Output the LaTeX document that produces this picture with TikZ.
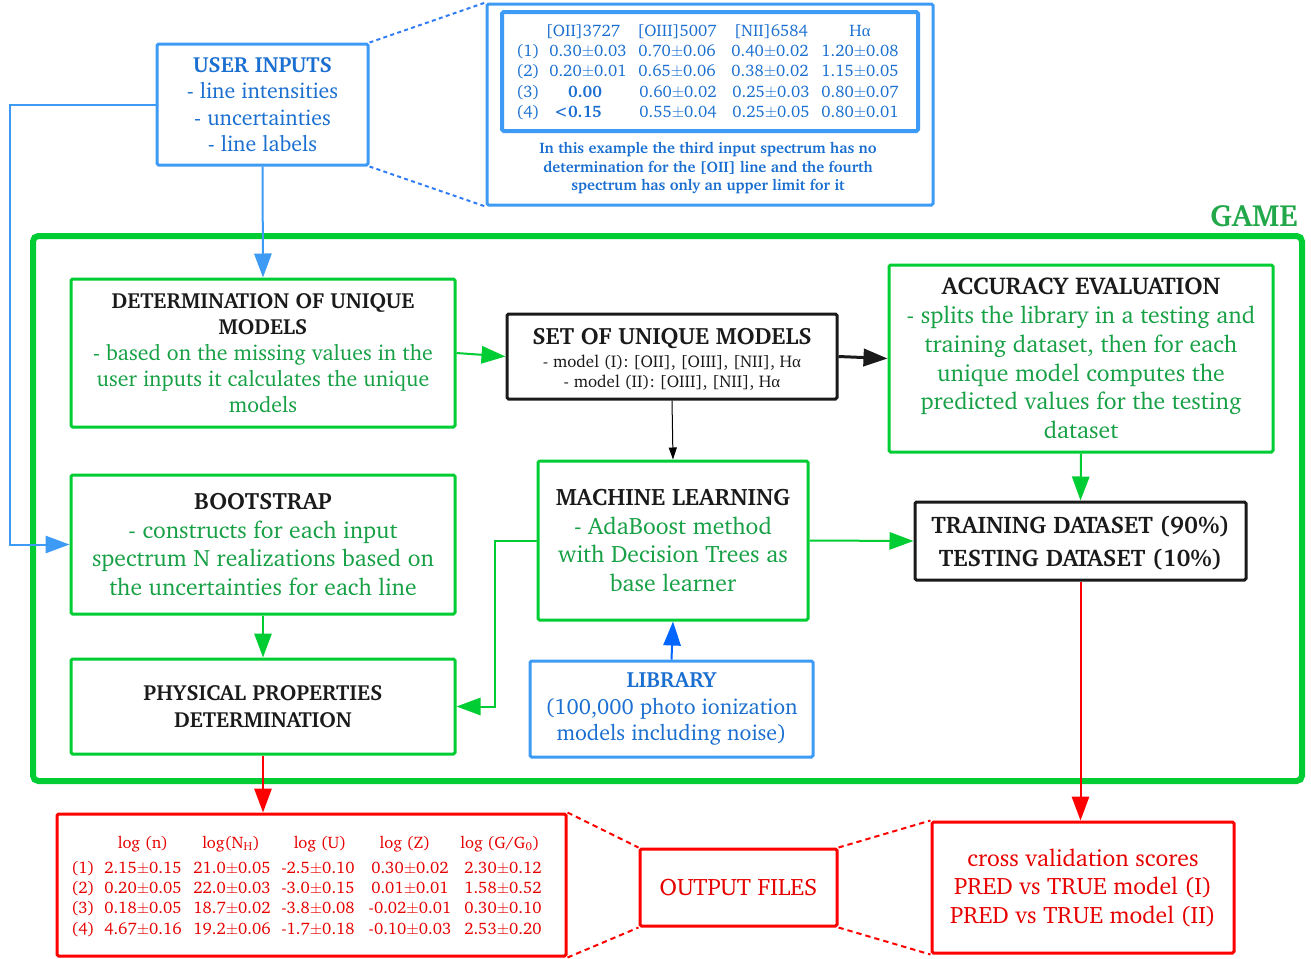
\documentclass[tikz,border=0pt]{standalone}
\usepackage{fontspec}
\usepackage[T1]{fontenc}
\renewcommand{\rmdefault}{bch}
\renewcommand{\familydefault}{\rmdefault}
\newfontfamily\gk{Liberation Serif}
\usetikzlibrary{arrows.meta}
\definecolor{bbox}{HTML}{3D9BF5}
\definecolor{btext}{HTML}{1A6FD0}
\definecolor{gline}{HTML}{00CC33}
\definecolor{gtext}{HTML}{17A045}
\definecolor{ggame}{HTML}{22A84A}
\definecolor{rline}{HTML}{FF0000}
\definecolor{rtext}{HTML}{E60000}
\definecolor{kline}{HTML}{1A1A1A}
\definecolor{larrow}{HTML}{0066FF}
\newcommand{\pmm}{\ensuremath{\pm}}
\newcommand{\al}{{\gk α}}
\tikzset{
  boxbase/.style={draw, line width=2.25pt, rounded corners=1.2pt, inner sep=0pt, align=center},
  bluebox/.style={boxbase, draw=bbox, text=btext},
  greenbox/.style={boxbase, draw=gline, text=gtext},
  blackbox/.style={boxbase, draw=kline, text=kline},
  redbox/.style={boxbase, draw=rline, text=rtext},
  bigarr/.style={-{Triangle[length=18pt,width=13pt]}},
  bconn/.style={bigarr, draw=bbox, line width=1.5pt},
  gconn/.style={bigarr, draw=gline, line width=1.5pt},
  kconn/.style={bigarr, draw=kline, line width=2.25pt},
  kthin/.style={-{Triangle[length=9pt,width=6pt]}, draw=black, line width=0.75pt},
  lconn/.style={bigarr, draw=larrow, line width=1.5pt},
  rconn/.style={bigarr, draw=rline, line width=1.5pt},
  bdot/.style={draw=bbox!80!blue, line width=1.5pt, dash pattern=on 3pt off 2.5pt},
  rdot/.style={draw=rline, line width=1.5pt, dash pattern=on 4pt off 3pt},
  tcell/.style={anchor=base, inner sep=0pt, text=btext, font=\fontsize{12.5}{14}\selectfont},
  ocell/.style={anchor=base, inner sep=0pt, text=rtext, font=\fontsize{12.5}{14}\selectfont}
}
\begin{document}
\begin{tikzpicture}[x=0.75pt,y=-0.75pt]
\useasboundingbox (0,0) rectangle (1311,958);

% ---------- user inputs ----------
\node[bluebox, minimum width=158.25pt, minimum height=90.75pt,
  font=\fontsize{16.4}{19.9}\selectfont] (ui) at (262.5,104.5)
  {{\bfseries USER INPUTS}\\- line intensities\\- uncertainties\\- line labels};

% ---------- example input box ----------
\node[bluebox, minimum width=334.5pt, minimum height=150.75pt] (tbox) at (710,104.5) {};
\node[draw=bbox, line width=3pt, rounded corners=1.2pt, minimum width=312pt, minimum height=89.25pt, inner sep=0pt] (ttab) at (710,71.5) {};
\foreach \x/\t [count=\c] in {583/{[OII]3727},677/{[OIII]5007},771/{[NII]6584},860/{H\al}}
  \node[tcell] (th\c) at (\x,36) {\t};
\foreach \y/\r [count=\c] in {51/1,71/2,92/3,112/4}
  \node[tcell] (tl\c) at (528,\y+5) {(\r)};
\foreach \y/\a/\b/\cc/\d [count=\c] in {51/0.30\pmm0.03/0.70\pmm0.06/0.40\pmm0.02/1.20\pmm0.08,
                                      71/0.20\pmm0.01/0.65\pmm0.06/0.38\pmm0.02/1.15\pmm0.05}{
  \node[tcell] (ta\c) at (588,\y+5) {\a};
  \node[tcell] (tb\c) at (677,\y+5) {\b};
  \node[tcell] (tc\c) at (770,\y+5) {\cc};
  \node[tcell] (td\c) at (860,\y+5) {\d};
}
\node[tcell, font=\fontsize{12.5}{14}\selectfont\bfseries] (ta3) at (585,97) {0.00};
\node[tcell] (tb3) at (678,97) {0.60\pmm0.02};
\node[tcell] (tc3) at (771,97) {0.25\pmm0.03};
\node[tcell] (td3) at (860,97) {0.80\pmm0.07};
\node[tcell, font=\fontsize{12.5}{14}\selectfont\bfseries] (ta4) at (578,117) {\textless0.15};
\node[tcell] (tb4) at (678,117) {0.55\pmm0.04};
\node[tcell] (tc4) at (771,117) {0.25\pmm0.05};
\node[tcell] (td4) at (860,117) {0.80\pmm0.01};
\node[align=center, text=btext, inner sep=0pt, font=\fontsize{11.4}{13.9}\selectfont\bfseries] (tnote) at (708,168)
  {In this example the third input spectrum has no\\determination for the [OII] line and the fourth\\spectrum has only an upper limit for it};

% ---------- GAME frame ----------
\node[draw=gline, line width=4.5pt, rounded corners=4pt, minimum width=951.75pt, minimum height=408.75pt, inner sep=0pt] (game) at (667.5,508.5) {};
\node[text=ggame, inner sep=0pt, font=\fontsize{23}{25}\selectfont\bfseries] (gamelbl) at (1254,216) {GAME};

% ---------- inner boxes ----------
\node[greenbox, minimum width=288pt, minimum height=111pt, font=\fontsize{16.4}{19.6}\selectfont] (det) at (263,353)
  {\textcolor{kline}{\bfseries DETERMINATION OF UNIQUE}\\\textcolor{kline}{\bfseries MODELS}\\- based on the missing values in the\\user inputs it calculates the unique\\models};
\node[blackbox, minimum width=247.5pt, minimum height=63.75pt, font=\fontsize{12.7}{15}\selectfont] (set) at (672,356.5)
  {{\fontsize{17.7}{18}\selectfont\bfseries\rule{0pt}{16.5pt}SET OF UNIQUE MODELS}\\[2.5pt]
   - model (I): [OII], [OIII], [NII], H\al\\
   - model (II): [OIII], [NII], H\al};
\node[greenbox, minimum width=288pt, minimum height=140.25pt, font=\fontsize{17.8}{21.6}\selectfont] (acc) at (1081,358.5)
  {\textcolor{kline}{\fontsize{18.2}{21.6}\selectfont\bfseries ACCURACY EVALUATION}\\- splits the library in a testing and\\training dataset, then for each\\unique model computes the\\predicted values for the testing\\dataset};
\node[greenbox, minimum width=288pt, minimum height=104.25pt, font=\fontsize{17.7}{21.3}\selectfont] (boot) at (263,544.5)
  {\textcolor{kline}{\bfseries BOOTSTRAP}\\- constructs for each input\\spectrum N realizations based on\\the uncertainties for each line};
\node[greenbox, minimum width=202.5pt, minimum height=119.25pt, font=\fontsize{17.8}{21.5}\selectfont] (ml) at (673,540.5)
  {\textcolor{kline}{\bfseries MACHINE LEARNING}\\- AdaBoost method\\with Decision Trees as\\base learner};
\node[blackbox, minimum width=248.25pt, minimum height=58.5pt, font=\fontsize{18}{24.75}\selectfont\bfseries] (train) at (1080.5,541)
  {\rule{0pt}{16pt}TRAINING DATASET (90\%)\\TESTING DATASET (10\%)};
\node[greenbox, minimum width=288pt, minimum height=71.25pt, text=kline, font=\fontsize{16.4}{20.2}\selectfont\bfseries] (phys) at (263,706.5)
  {PHYSICAL PROPERTIES\\DETERMINATION};
\node[bluebox, minimum width=212.25pt, minimum height=72pt, font=\fontsize{16.5}{20}\selectfont] (lib) at (671.5,709)
  {{\bfseries LIBRARY}\\(100,000 photo ionization\\models including noise)};

% ---------- outputs ----------
\node[redbox, minimum width=381.75pt, minimum height=106.5pt] (outtab) at (311.5,885) {};
\foreach \x/\t [count=\c] in {143/{log (n)},231/{log(N\textsubscript{H})},320/{log (U)},405/{log (Z)},500/{log (G/G\textsubscript{0})}}
  \node[ocell] (oh\c) at (\x,848) {\t};
\foreach \y/\r/\a/\b/\cc/\d/\e in {868/1/2.15\pmm0.15/21.0\pmm0.05/-2.5\pmm0.10/0.30\pmm0.02/2.30\pmm0.12,
                                   888/2/0.20\pmm0.05/22.0\pmm0.03/-3.0\pmm0.15/0.01\pmm0.01/1.58\pmm0.52,
                                   908/3/0.18\pmm0.05/18.7\pmm0.02/-3.8\pmm0.08/-0.02\pmm0.01/0.30\pmm0.10,
                                   929/4/4.67\pmm0.16/19.2\pmm0.06/-1.7\pmm0.18/-0.10\pmm0.03/2.53\pmm0.20}{
  \node[ocell] (ol\r) at (83,\y+5) {(\r)};
  \node[ocell] (oa\r) at (143,\y+5) {\a};
  \node[ocell] (ob\r) at (232,\y+5) {\b};
  \node[ocell] (oc\r) at (318,\y+5) {\cc};
  \node[ocell] (od\r) at (410,\y+5) {\d};
  \node[ocell] (oe\r) at (503,\y+5) {\e};
}
\node[redbox, minimum width=147.75pt, minimum height=57.75pt, font=\fontsize{17.8}{20}\selectfont] (outf) at (738.5,887.5) {OUTPUT FILES};
\node[redbox, minimum width=226.5pt, minimum height=98.25pt, font=\fontsize{17.8}{21.4}\selectfont] (cross) at (1083,887.5)
  {cross validation scores\\PRED vs TRUE model (I)\\PRED vs TRUE model (II)};

% ---------- connectors ----------
\draw[bdot] (ui.north east) -- (tbox.north west);
\draw[bdot] (ui.south east) -- (tbox.south west);
\draw[bconn] (ui.south) -- (det.north);
\coordinate (lft) at (10,104.5);
\draw[bconn] (ui.west) -- (lft) |- (boot.west);
\draw[gconn] (det.east) -- (set.west);
\draw[kconn] (set.east) -- (acc.west);
\draw[kthin] (set.south) -- (ml.north);
\draw[gconn] (acc.south) -- (train.north);
\draw[gconn] (ml.east) -- (train.west);
\coordinate (mlj) at (495,540.5);
\draw[gconn] (ml.west) -- (mlj) |- (phys.east);
\draw[gconn] (boot.south) -- (phys.north);
\draw[lconn] (lib.north) -- (ml.south);
\draw[rconn] (phys.south) -- (phys.south |- outtab.north);
\draw[rconn] (train.south) -- (train.south |- cross.north);
\draw[rdot] (outtab.north east) -- (outf.north west);
\draw[rdot] (outtab.south east) -- (outf.south west);
\draw[rdot] (outf.north east) -- (cross.north west);
\draw[rdot] (outf.south east) -- (cross.south west);
\end{tikzpicture}
\end{document}
